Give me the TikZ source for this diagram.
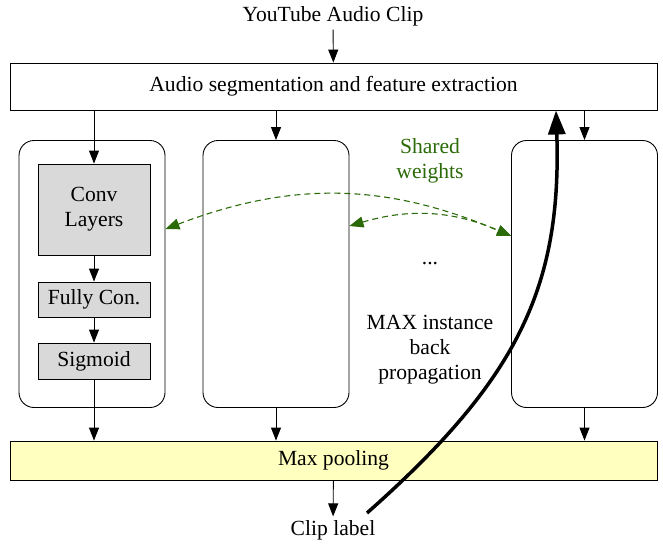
\documentclass[tikz,border=0pt]{standalone}
\usepackage{fontspec}
\setmainfont{Liberation Serif}
\usetikzlibrary{arrows.meta}
\definecolor{sharedgreen}{RGB}{42,106,8}
\definecolor{poolyellow}{RGB}{255,255,192}
\definecolor{layergray}{RGB}{217,217,217}
\begin{document}
\begin{tikzpicture}[x=1pt,y=-1pt,line width=0.9pt,
  font=\fontsize{21.6}{25}\selectfont,
  flow/.style={-{Triangle[length=13pt,width=10pt]}},
  wide/.style={rectangle,draw=black,minimum width=647pt,minimum height=47pt,inner sep=0pt},
  branch/.style={rectangle,rounded corners=15pt,draw=black,minimum width=146pt,minimum height=267pt,inner sep=0pt},
  layer/.style={rectangle,draw=black,fill=layergray,minimum width=112pt,inner sep=0pt,align=center},
  shared/.style={draw=sharedgreen,dashed,dash pattern=on 6pt off 4pt,line width=1.1pt,
    {Triangle[length=14pt,width=11pt]}-{Triangle[length=14pt,width=11pt]}}]
\useasboundingbox (0,0) rectangle (663,544);
\node (clip) at (333,16) {YouTube Audio Clip};
\node[wide] (segment) at (333.5,86.5) {Audio segmentation and feature extraction};
\draw[flow] (clip)--(segment);
\node[branch] (left) at (92,274) {};
\node[branch] (middle) at (276,274) {};
\node[branch] (right) at (584.5,274) {};
\node[layer,minimum height=91pt] (conv) at (94,209.5) {Conv\\Layers};
\node[layer,minimum height=35pt] (fc) at (94,299.5) {Fully Con.};
\node[layer,minimum height=36pt] (sigmoid) at (94,361) {Sigmoid};
\draw[flow] (segment.south -| conv.north)--(conv.north);
\draw[flow] (segment.south -| middle.north)--(middle.north);
\draw[flow] (segment.south -| right.north)--(right.north);
\draw[flow] (conv)--(fc);
\draw[flow] (fc)--(sigmoid);
\node[wide,fill=poolyellow,minimum height=39pt] (pool) at (333.5,460.5) {Max pooling};
\draw[flow] (sigmoid.south)--(sigmoid.south |- pool.north);
\draw[flow] (middle.south)--(middle.south |- pool.north);
\draw[flow] (right.south)--(right.south |- pool.north);
\node (label) at (333,530) {Clip label};
\draw[flow] (pool)--(label);
\node[text=sharedgreen,align=center] (weights) at (430,161) {Shared\\weights};
\draw[shared] ([yshift=45pt]left.east) to[bend left=22] ([yshift=38pt]right.west);
\draw[shared] ([yshift=48pt]middle.east) to[bend left=20] ([yshift=38pt]right.west);
\node (dots) at (430,264) {...};
\node[align=center] (backprop) at (430,350) {MAX instance\\back\\propagation};
\coordinate (bpstart) at (367,513);
\draw[line width=3.5pt,-{Triangle[length=24pt,width=17pt]}] (bpstart) .. controls (515,382) and (562,290) .. ([xshift=222.5pt]segment.south);
\end{tikzpicture}
\end{document}
